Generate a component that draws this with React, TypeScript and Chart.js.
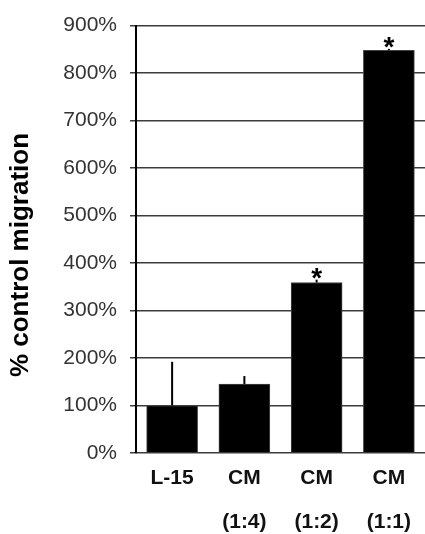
import React, { useEffect, useRef } from "react";
import { Chart, registerables } from "chart.js";

Chart.register(...registerables);

const categories: string[][] = [["L-15"], ["CM", "(1:4)"], ["CM", "(1:2)"], ["CM", "(1:1)"]];
const migrationValues: number[] = [100, 145, 359, 848];
const errorUpper: number[] = [192, 162, 365, 851];
const significant: boolean[] = [false, false, true, true];
const yTickValues: number[] = [0, 100, 200, 300, 400, 500, 600, 700, 800, 900];
const yTitle = "% control migration";

const FONT = "'Liberation Sans', Arial, Helvetica, sans-serif";

const errorPlugin = {
  id: "errorBarsAndStars",
  afterDatasetsDraw(chart: any) {
    const { ctx, scales } = chart;
    const xs = scales.x;
    const ys = scales.y;
    ctx.save();
    ctx.strokeStyle = "#000";
    ctx.lineWidth = 2;
    migrationValues.forEach((v, i) => {
      const x = xs.getPixelForValue(i);
      const y0 = ys.getPixelForValue(v);
      const y1 = ys.getPixelForValue(errorUpper[i]);
      ctx.beginPath();
      ctx.moveTo(x, y0);
      ctx.lineTo(x, y1);
      ctx.stroke();
      if (significant[i]) {
        ctx.font = `bold 28px ${FONT}`;
        ctx.fillStyle = "#000";
        ctx.textAlign = "center";
        ctx.textBaseline = "alphabetic";
        const m = ctx.measureText("*");
        const bottom = y1 - 1;
        const baseline = bottom - m.actualBoundingBoxDescent;
        ctx.fillText("*", x, baseline);
      }
    });
    ctx.restore();
  },
  afterDraw(chart: any) {
    const { ctx } = chart;
    ctx.save();
    ctx.translate(21, 255);
    ctx.rotate(-Math.PI / 2);
    ctx.font = `bold 26px ${FONT}`;
    ctx.fillStyle = "#000";
    ctx.textAlign = "center";
    ctx.textBaseline = "middle";
    ctx.fillText(yTitle, 0, 0);
    ctx.restore();
  },
};

export default function App() {
  const ref = useRef<HTMLCanvasElement | null>(null);
  useEffect(() => {
    if (!ref.current) return;
    const chart = new Chart(ref.current, {
      type: "bar",
      data: {
        labels: categories as any,
        datasets: [
          {
            data: migrationValues,
            backgroundColor: "#000",
            borderColor: "#444",
            borderWidth: 1,
            barThickness: 51,
          },
        ],
      },
      options: {
        responsive: false,
        animation: false,
        layout: { padding: { top: 21, left: 0, right: 0, bottom: 0 } },
        plugins: { legend: { display: false }, tooltip: { enabled: false } },
        scales: {
          x: {
            grid: { display: false, drawTicks: false },
            border: { display: false },
            ticks: {
              color: "#111",
              font: { family: FONT, size: 21, weight: "bold", lineHeight: 2.1 },
              padding: 3,
              maxRotation: 0,
              autoSkip: false,
            },
            afterFit: (s: any) => {
              s.height = 81;
            },
          },
          y: {
            min: 0,
            max: 900,
            afterBuildTicks: (s: any) => {
              s.ticks = yTickValues.map((v) => ({ value: v }));
            },
            grid: { color: "#3c3c3c", lineWidth: 1.5, tickLength: 6, drawTicks: true },
            border: { display: true, color: "#000", width: 2 },
            ticks: {
              color: "#333",
              font: { family: FONT, size: 21 },
              padding: 13,
              callback: (v: any) => `${v}%`,
            },
            afterFit: (s: any) => {
              s.width = 136;
            },
          },
        },
      },
      plugins: [errorPlugin],
    });
    return () => chart.destroy();
  }, []);
  return (
    <div style={{ position: "absolute", left: 0, top: 0, width: 425, height: 534, background: "#fff" }}>
      <canvas ref={ref} width={425} height={534} style={{ width: 425, height: 534, display: "block" }} />
    </div>
  );
}
